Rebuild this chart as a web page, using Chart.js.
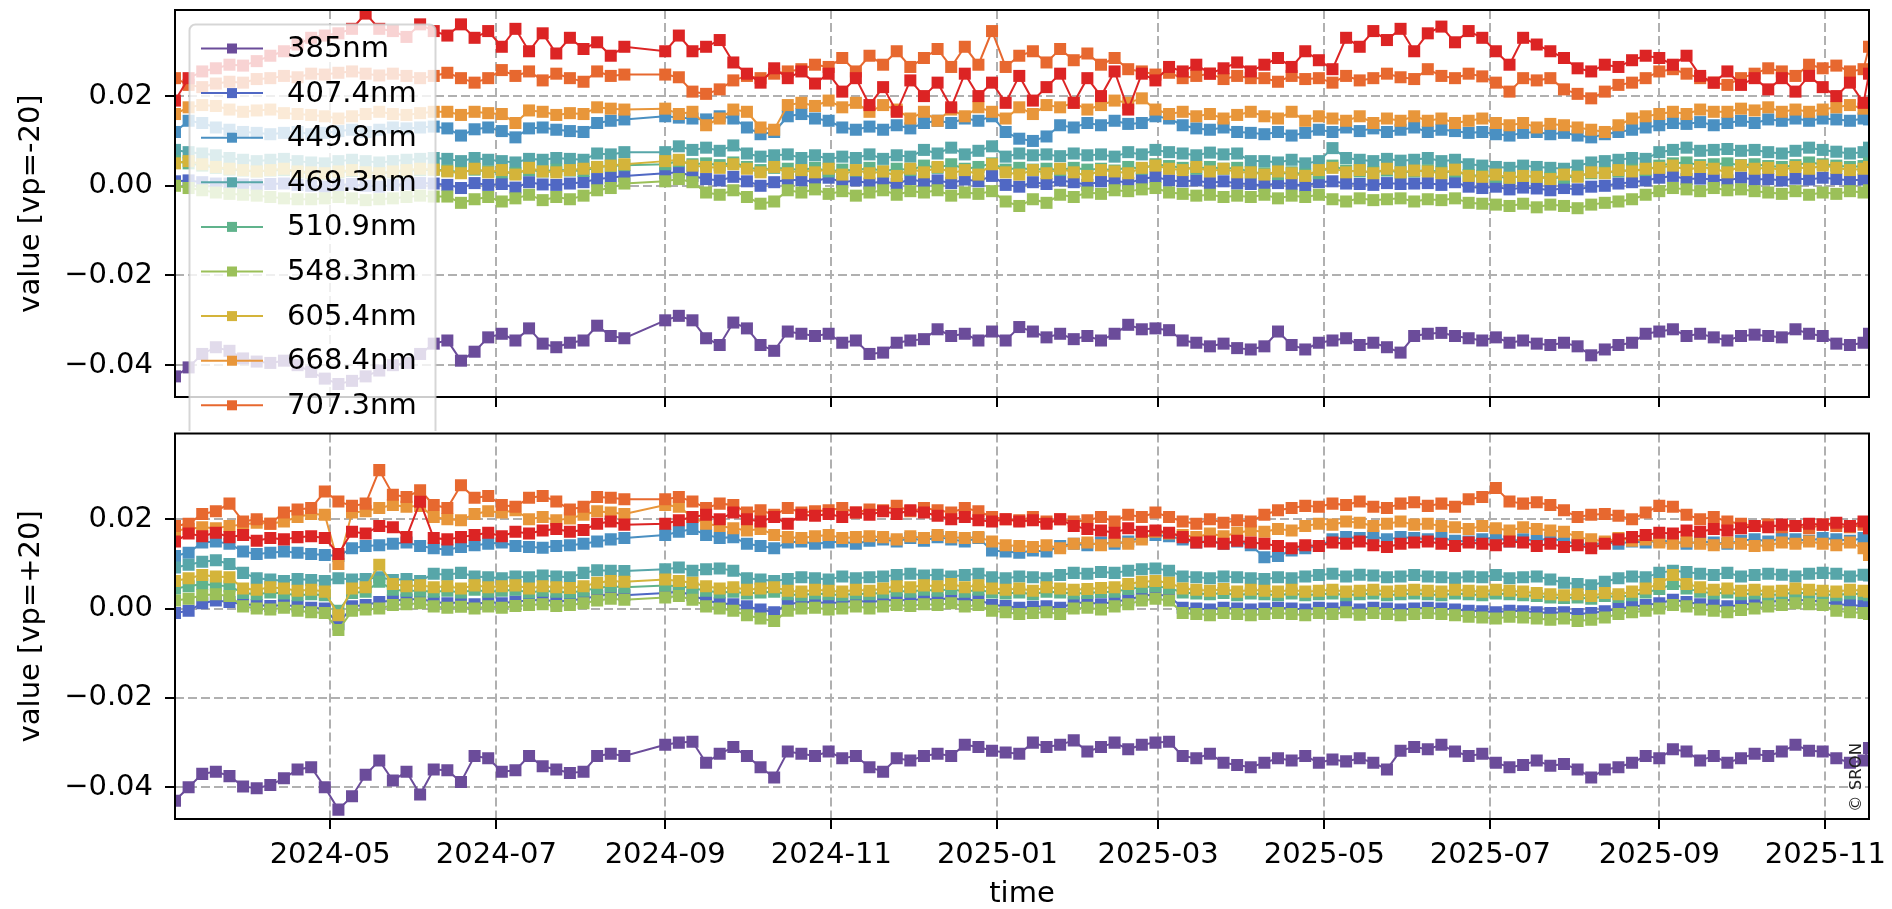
<!DOCTYPE html>
<html>
<head>
<meta charset="utf-8">
<script src="https://cdn.jsdelivr.net/npm/chart.js@4.4.1/dist/chart.umd.min.js"></script>
<style>
  html, body { margin: 0; padding: 0; background: #fff; overflow: hidden; width: 1892px; height: 909px; }
  #top { position: absolute; left: 0; top: 0; }
  #bottom { position: absolute; left: 0; top: 425px; }
</style>
</head>
<body>
<canvas id="top" width="1892" height="431"></canvas>
<canvas id="bottom" width="1892" height="490"></canvas>
<script>
// sample days, counted from the first measurement date
const startDate = '2024-03-05';
const days = [0,5,10,15,20,25,30,35,40,45,50,55,60,65,70,75,80,85,90,95,100,105,110,115,120,125,130,135,140,145,150,155,160,165,
  180,185,190,195,200,205,210,215,220,225,230,235,240,245,250,255,260,265,270,275,280,285,290,295,300,305,310,315,320,325,330,335,340,345,350,355,
  360,365,370,375,380,385,390,395,400,405,410,415,420,425,430,435,440,445,450,455,460,465,470,475,480,485,490,495,500,505,510,515,520,525,530,535,
  540,545,550,555,560,565,570,575,580,585,590,595,600,605,610,615,620,622];

const tickLabels = ['2024-05','2024-07','2024-09','2024-11','2025-01','2025-03','2025-05','2025-07','2025-09','2025-11'];
const yTicks = [-0.04, -0.02, 0, 0.02];
const yTickLabels = ['\u22120.04', '\u22120.02', '0.00', '0.02'];
const labels = ['385nm','407.4nm','449.8nm','469.3nm','510.9nm','548.3nm','605.4nm','668.4nm','707.3nm'];

// values in units of 1e-4, panel vp=-20
const m385 = [-425,-405,-375,-360,-368,-385,-392,-395,-390,-400,-415,-430,-442,-435,-425,-412,-400,-395,-375,-352,
  -345,-390,-370,-338,-330,-345,-318,-352,-360,-350,-345,-312,-335,-340,-300,-290,-300,-340,-355,-305,
  -318,-355,-368,-325,-330,-335,-330,-350,-345,-375,-372,-350,-345,-342,-320,-335,-330,-345,-325,-345,
  -315,-325,-338,-330,-342,-335,-345,-330,-310,-320,-318,-322,-345,-350,-358,-352,-362,-365,-358,-325,
  -355,-365,-350,-345,-340,-355,-350,-360,-372,-335,-330,-328,-335,-340,-345,-338,-350,-345,-352,-355,
  -350,-358,-378,-365,-355,-350,-330,-325,-320,-335,-330,-338,-345,-335,-332,-335,-338,-320,-330,-335,
  -352,-355,-350,-330];
const m407 = [10,12,8,5,5,3,2,4,5,2,0,-2,2,4,0,-2,2,4,6,5,
  2,-5,6,2,4,-4,8,3,2,5,8,15,18,22,28,30,22,15,12,20,
  10,0,8,14,12,10,18,8,12,5,10,4,15,8,12,6,14,10,22,2,
  -2,8,4,12,8,2,10,12,6,15,20,12,10,12,6,10,5,4,0,6,
  4,0,8,10,5,4,2,6,4,5,6,2,8,-2,-5,-2,-8,-4,-6,-10,
  -5,-8,-2,0,5,8,12,18,22,15,16,14,12,18,14,15,12,16,14,18,
  15,12,14,16];
const m449 = [120,145,140,130,125,120,118,115,118,120,115,118,122,125,120,125,130,128,130,132,
  128,112,126,130,122,108,128,130,125,122,120,140,145,148,155,152,150,148,155,150,
  130,115,120,155,160,150,145,130,125,132,125,135,128,140,145,140,150,145,155,120,
  105,100,110,135,130,140,135,145,138,140,155,150,135,128,125,130,120,118,115,120,
  112,118,125,120,130,122,128,120,125,130,120,125,122,118,120,115,112,118,120,115,
  118,112,108,115,120,125,130,135,140,138,142,135,140,145,140,148,145,150,145,150,
  148,145,150,148];
const m469 = [80,75,72,68,62,58,55,58,60,55,52,50,55,58,55,52,55,58,60,62,
  60,55,62,58,55,52,60,58,62,60,58,72,70,75,75,88,80,85,78,90,
  72,65,68,70,62,68,60,65,62,70,60,68,65,80,72,85,70,78,88,65,
  72,68,70,66,72,68,70,65,75,70,80,75,72,68,74,70,72,55,55,52,
  58,50,55,84,62,58,55,60,56,58,62,55,58,48,45,42,40,45,42,40,
  38,45,52,55,58,62,60,75,80,85,78,80,82,78,80,75,72,78,85,80,
  76,72,75,85];
const m510 = [55,50,45,40,36,34,32,34,35,30,28,27,30,33,30,28,30,33,35,36,
  34,30,36,32,30,28,35,32,36,34,33,42,44,46,48,55,48,50,46,52,
  42,35,40,38,35,40,32,36,34,40,32,38,35,45,40,48,38,42,50,36,
  40,36,38,35,40,36,38,34,42,38,48,44,40,38,42,38,40,30,28,26,
  30,25,28,45,34,32,30,34,30,32,35,30,32,24,22,20,18,22,20,18,
  18,22,28,30,32,36,35,45,50,52,46,48,50,46,48,44,42,46,52,48,
  45,42,44,50];
const m548 = [0,-5,-10,-15,-18,-20,-22,-25,-28,-30,-30,-28,-25,-28,-32,-30,-28,-25,-22,-24,
  -24,-38,-30,-25,-35,-28,-20,-32,-25,-30,-22,-10,-5,5,10,15,8,-15,-20,-10,
  -25,-40,-35,-10,-15,-8,-18,-12,-22,-15,-10,-20,-12,-15,-10,-22,-15,-18,-12,-35,
  -45,-30,-38,-20,-25,-15,-18,-10,-12,-8,-5,-15,-18,-22,-20,-25,-22,-25,-20,-28,
  -22,-25,-20,-30,-35,-28,-32,-30,-28,-35,-30,-32,-28,-38,-40,-42,-45,-40,-48,-42,
  -45,-50,-42,-38,-35,-30,-20,-12,-5,-8,-12,-5,-10,-8,-12,-15,-18,-12,-20,-15,
  -18,-12,-15,-10];
const m605 = [50,55,48,42,38,35,32,35,38,32,30,28,32,35,30,28,32,35,38,36,
  32,28,38,30,35,25,40,32,30,35,38,42,45,48,55,58,45,42,40,48,
  38,30,42,28,35,30,38,25,35,28,32,22,38,30,42,28,35,25,48,30,
  25,35,28,38,30,22,35,32,28,40,45,38,35,42,32,38,30,30,25,32,
  28,22,35,40,30,35,28,38,30,34,32,28,36,22,20,25,18,22,20,15,
  25,20,30,28,35,32,38,40,45,35,42,38,30,45,38,40,35,42,38,45,
  40,35,38,42];
const m668 = [160,175,180,178,170,165,168,170,162,160,158,155,150,155,160,165,160,158,162,165,
  165,158,165,162,160,140,168,165,158,162,160,175,172,170,172,160,165,135,150,170,
  165,130,125,180,185,178,190,175,185,165,180,170,150,165,145,170,155,175,165,150,
  175,160,180,175,185,170,180,190,185,195,170,160,165,155,160,150,158,165,155,150,
  165,145,155,150,145,155,140,150,145,155,145,150,140,145,150,140,135,140,130,138,
  135,130,125,120,135,150,155,160,165,160,170,165,165,172,168,175,165,170,165,170,
  175,180,172,178];
const m707 = [240,225,220,228,232,230,238,240,245,242,250,248,252,255,250,246,250,245,240,245,
  252,240,230,240,258,245,255,235,250,240,232,255,245,248,248,242,210,205,215,235,
  245,240,250,255,260,270,265,285,255,290,270,300,265,285,305,265,310,270,345,265,
  290,300,275,305,280,295,270,285,260,255,248,252,240,245,250,238,245,240,240,232,
  245,238,240,230,245,235,240,250,242,238,260,245,240,250,244,230,210,240,235,240,
  215,205,195,210,225,230,240,255,260,250,240,230,225,240,250,262,255,245,270,262,
  268,255,260,310];
const mRed = [190,240,255,262,270,268,278,290,300,315,330,335,340,350,384,350,345,332,360,345,
  335,360,330,345,310,350,300,340,295,330,305,320,290,310,300,335,300,310,325,275,
  250,230,262,240,255,228,250,210,240,180,220,165,235,200,230,175,250,200,230,185,
  245,190,220,250,185,240,200,255,170,250,235,265,255,270,250,262,275,255,270,285,
  265,300,280,260,330,310,345,325,350,300,340,355,320,345,330,300,270,330,315,300,
  285,262,255,270,265,280,290,285,270,290,245,230,255,225,240,215,240,210,245,220,
  200,230,185,250];

// values in units of 1e-4, panel vp=+20
const p385 = [-430,-400,-370,-365,-375,-398,-402,-395,-380,-360,-355,-400,-450,-420,-372,-340,-385,-365,-416,-360,
  -362,-388,-330,-335,-365,-362,-330,-353,-360,-368,-365,-330,-325,-330,-305,-300,-298,-345,-325,-310,
  -330,-355,-378,-320,-325,-330,-320,-335,-330,-355,-365,-335,-340,-330,-325,-330,-305,-310,-318,-322,
  -325,-300,-310,-305,-295,-320,-310,-300,-315,-305,-300,-298,-330,-335,-325,-345,-350,-355,-345,-335,
  -340,-330,-345,-338,-342,-335,-345,-360,-318,-310,-315,-305,-320,-330,-325,-345,-355,-350,-340,-352,
  -348,-360,-378,-360,-355,-345,-330,-335,-315,-320,-340,-330,-345,-335,-325,-330,-320,-305,-318,-320,
  -335,-345,-340,-312];
const p407 = [-10,-5,12,18,15,10,8,6,8,5,2,0,-35,5,8,15,18,20,22,15,
  12,14,10,15,12,16,18,20,16,18,22,28,32,30,35,38,30,18,12,10,
  5,-2,-8,10,14,15,12,14,18,14,18,20,18,22,20,24,18,20,8,6,
  2,4,5,2,12,14,10,16,20,28,32,28,2,0,-2,2,0,-2,0,2,
  0,-2,2,0,4,-2,2,0,-2,0,2,0,-2,-5,-6,-8,-5,-6,-8,-10,
  -8,-12,-10,-6,0,4,8,12,20,15,10,8,5,8,12,15,18,20,18,16,
  10,8,6,4];
const p449 = [118,125,148,150,145,128,122,125,128,125,122,120,118,135,140,142,145,148,140,135,
  132,138,142,145,148,140,138,136,140,142,145,150,155,158,165,172,178,165,158,160,
  145,140,135,148,150,145,148,150,145,152,155,150,158,152,160,155,150,158,130,128,
  125,130,128,140,145,142,148,145,150,160,165,162,155,148,152,145,150,142,115,118,
  130,135,140,155,160,158,162,155,160,158,155,158,152,150,155,160,150,155,152,158,
  150,145,142,148,145,150,148,152,150,145,150,148,145,152,155,150,158,155,152,158,
  155,152,158,155];
const p469 = [92,98,105,108,100,80,68,65,62,66,64,62,68,65,66,70,64,66,62,78,
  76,80,72,70,68,72,70,74,72,70,80,86,85,84,88,92,85,88,90,85,
  68,65,62,66,70,68,65,72,68,70,72,75,78,74,76,72,75,78,70,68,
  72,70,68,75,80,78,82,80,85,88,90,85,72,70,68,72,70,68,66,70,
  68,72,75,78,72,76,74,70,72,75,72,70,68,72,70,75,68,70,72,65,
  58,55,52,60,68,72,70,80,85,82,78,75,80,72,75,78,76,72,78,80,
  78,72,76,74];
const p510 = [45,50,55,52,50,35,32,36,34,30,32,30,-5,35,38,60,42,40,40,38,
  40,36,42,38,40,42,36,40,38,36,40,46,50,48,52,50,46,40,36,38,
  34,36,38,32,30,34,32,30,34,32,36,40,38,42,40,44,38,42,36,34,
  36,32,38,36,34,35,37,38,44,48,50,46,36,34,32,35,30,34,32,30,
  34,30,32,34,30,32,34,30,32,34,32,30,34,32,30,34,32,30,28,25,
  24,25,22,28,26,30,36,44,55,45,38,34,36,32,34,30,32,36,34,32,
  30,34,32,30];
const p548 = [18,22,30,32,28,5,0,-2,2,-5,-8,-10,-48,-5,-2,0,8,10,12,5,
  2,4,0,5,2,6,8,10,6,8,12,18,22,20,25,28,20,5,0,-5,
  -15,-22,-28,-5,0,2,-2,0,5,0,5,8,6,10,8,12,5,8,-5,-8,
  -12,-10,-8,-12,0,2,-2,5,10,18,22,18,-10,-12,-15,-10,-12,-15,-12,-10,
  -12,-15,-10,-12,-8,-14,-10,-12,-15,-12,-10,-12,-15,-18,-20,-22,-18,-20,-22,-25,
  -22,-28,-25,-20,-12,-8,-5,0,8,5,-2,-5,-8,-3,0,5,8,12,10,8,
  -5,-8,-10,-12];
const p605 = [62,68,75,72,70,45,42,48,45,40,42,38,-15,45,48,98,55,50,52,48,
  50,45,52,48,50,52,45,50,48,46,50,58,62,60,65,62,58,50,45,48,
  42,45,48,40,38,42,40,38,42,40,45,50,48,52,50,55,48,52,45,42,
  45,40,48,45,42,44,46,48,55,60,62,58,45,42,40,44,38,42,40,38,
  42,38,40,42,38,40,42,38,40,42,40,38,42,40,38,42,40,38,35,32,
  30,32,28,35,32,38,45,55,75,55,48,42,45,40,42,38,40,45,42,40,
  38,42,40,38];
const p668 = [175,178,182,180,185,188,192,190,195,205,212,210,100,215,218,225,232,228,230,205,
  200,198,212,218,215,220,200,205,198,202,210,218,215,212,232,228,205,190,185,180,
  175,178,165,160,158,162,165,158,160,162,160,155,162,158,165,160,158,160,150,142,
  140,138,142,135,145,148,142,150,145,155,172,168,165,160,168,162,170,175,172,178,
  175,185,190,188,195,192,185,190,195,188,190,185,182,178,185,180,175,182,178,175,
  172,160,155,150,158,152,155,148,145,150,145,142,148,145,140,142,148,145,150,145,
  142,148,135,120];
const p707 = [185,190,212,218,235,195,200,190,215,222,225,262,240,230,235,310,255,250,265,232,
  225,276,248,252,232,228,248,252,240,222,228,250,248,245,245,250,240,225,235,232,
  215,220,210,225,215,218,220,225,215,222,220,230,218,225,220,215,225,218,205,200,
  198,205,195,200,195,198,205,195,210,205,215,205,195,190,200,192,198,195,210,220,
  225,230,228,235,232,240,228,225,235,238,230,235,228,245,250,270,240,235,238,232,
  220,205,210,212,208,200,215,230,228,210,200,205,195,190,185,188,182,185,180,188,
  185,182,188,180];
const pRed = [150,168,162,170,160,165,152,158,155,160,162,158,122,172,168,185,182,160,239,158,
  155,160,165,170,162,172,168,175,178,172,176,190,195,188,190,198,205,210,200,215,
  200,195,205,190,210,208,212,205,215,210,218,212,220,215,208,200,205,198,195,200,
  195,198,190,200,185,178,175,170,180,172,175,170,160,148,150,145,152,148,145,140,
  135,142,140,148,145,150,142,138,145,148,150,145,140,148,145,142,150,148,140,145,
  138,142,135,145,155,160,165,170,168,175,172,178,175,180,185,182,188,185,190,188,
  192,185,195,180];

const colors = ['#6b4c9a','#5068c4','#4a90c2','#57a6a9','#60b38c','#9bc059','#d4b43a','#e8963a','#e7682f','#dc2424'];

const DAY = 86400000;
const t0 = Date.parse(startDate);
const xMin = t0 + days[0] * DAY;
const xMax = t0 + days[days.length - 1] * DAY;
const tickVals = tickLabels.map(s => Date.parse(s + '-01'));

Chart.defaults.font.family = "'DejaVu Sans'";
Chart.defaults.font.size = 29;
Chart.defaults.color = '#000';

function buildSets(rows) {
  return rows.map((vals, i) => {
    if (vals.length !== days.length) throw new Error('series ' + i + ' has ' + vals.length + ' values');
    return {
      label: labels[i] || '',
      data: days.map((d, k) => ({ x: t0 + d * DAY, y: vals[k] * 1e-4 })),
      borderColor: colors[i],
      backgroundColor: colors[i],
      pointBackgroundColor: colors[i],
      borderWidth: 2,
      pointStyle: 'rect',
      pointRadius: 8.5,
      pointBorderWidth: 0,
      tension: 0,
      clip: 0,
      order: -i
    };
  });
}

const framePlugin = {
  id: 'frame',
  beforeDraw(chart) {
    const { ctx, chartArea: a } = chart;
    ctx.save();
    ctx.fillStyle = '#fff';
    ctx.fillRect(a.left, a.top, a.right - a.left, a.bottom - a.top);
    ctx.restore();
  },
  afterDraw(chart) {
    const { ctx, chartArea: a } = chart;
    ctx.save();
    ctx.strokeStyle = '#000';
    ctx.lineWidth = 2;
    ctx.strokeRect(a.left, a.top, a.right - a.left, a.bottom - a.top);
    ctx.restore();
  }
};

function roundRectPath(ctx, x, y, w, h, r) {
  ctx.beginPath();
  ctx.moveTo(x + r, y);
  ctx.arcTo(x + w, y, x + w, y + h, r);
  ctx.arcTo(x + w, y + h, x, y + h, r);
  ctx.arcTo(x, y + h, x, y, r);
  ctx.arcTo(x, y, x + w, y, r);
  ctx.closePath();
}

const legendPlugin = {
  id: 'boxLegend',
  afterDraw(chart) {
    const ctx = chart.ctx;
    ctx.save();
    roundRectPath(ctx, 189.5, 24.5, 246, 480, 6);
    ctx.fillStyle = 'rgba(255,255,255,0.8)';
    ctx.fill();
    ctx.strokeStyle = 'rgba(204,204,204,0.8)';
    ctx.lineWidth = 2;
    ctx.stroke();
    ctx.font = "29px 'DejaVu Sans'";
    ctx.textBaseline = 'middle';
    labels.forEach((name, i) => {
      const y = 48.5 + i * 44.6;
      ctx.strokeStyle = colors[i];
      ctx.lineWidth = 2;
      ctx.beginPath();
      ctx.moveTo(201, y);
      ctx.lineTo(263, y);
      ctx.stroke();
      ctx.fillStyle = colors[i];
      ctx.fillRect(227, y - 5, 10, 10);
      ctx.fillStyle = '#000';
      ctx.fillText(name, 287, y + 1);
    });
    ctx.restore();
  }
};

const creditPlugin = {
  id: 'credit',
  afterDraw(chart) {
    const ctx = chart.ctx;
    ctx.save();
    ctx.translate(1857, 387);
    ctx.rotate(-Math.PI / 2);
    ctx.font = "16.5px 'DejaVu Sans'";
    ctx.fillStyle = '#222';
    ctx.textAlign = 'left';
    ctx.textBaseline = 'middle';
    ctx.fillText('\u00a9 SRON', 0, 0);
    ctx.restore();
  }
};

function makeChart(id, rows, yTitle, showX, padTop, xHeight, extraPlugins) {
  return new Chart(document.getElementById(id), {
    type: 'line',
    data: { datasets: buildSets(rows) },
    options: {
      responsive: false,
      animation: false,
      devicePixelRatio: 1,
      parsing: false,
      layout: { padding: { left: 0, right: 23, top: padTop, bottom: 0 } },
      plugins: { legend: { display: false }, tooltip: { enabled: false } },
      scales: {
        x: {
          type: 'linear',
          min: xMin,
          max: xMax,
          afterBuildTicks: s => { s.ticks = tickVals.map(v => ({ value: v })); },
          afterFit: s => { s.height = xHeight; s.paddingLeft = 0; s.paddingRight = 0; },
          ticks: {
            display: showX,
            autoSkip: false,
            maxRotation: 0,
            minRotation: 0,
            padding: 9,
            callback: (v, i) => tickLabels[i]
          },
          grid: { color: '#b0b0b0', lineWidth: 2, tickLength: 10, tickWidth: 2, tickColor: '#000' },
          border: { display: false, dash: [9, 4] },
          title: { display: showX, text: 'time', padding: { top: 0, bottom: 3 } }
        },
        y: {
          min: -0.0471,
          max: 0.0392,
          afterBuildTicks: s => { s.ticks = yTicks.map(v => ({ value: v })); },
          afterFit: s => { s.width = 175; s.paddingTop = 0; s.paddingBottom = 0; },
          ticks: { padding: 12, callback: (v, i) => yTickLabels[i] },
          grid: { color: '#b0b0b0', lineWidth: 2, tickLength: 10, tickWidth: 2, tickColor: '#000' },
          border: { display: false, dash: [9, 4] },
          title: { display: true, text: yTitle, padding: { top: 14, bottom: 0 } }
        }
      }
    },
    plugins: [framePlugin].concat(extraPlugins)
  });
}

makeChart('top', [m385, m407, m449, m469, m510, m548, m605, m668, m707, mRed],
  'value [vp=-20]', false, 10, 34, [legendPlugin]);
makeChart('bottom', [p385, p407, p449, p469, p510, p548, p605, p668, p707, pRed],
  'value [vp=+20]', true, 6, 96, [creditPlugin]);
</script>
</body>
</html>
